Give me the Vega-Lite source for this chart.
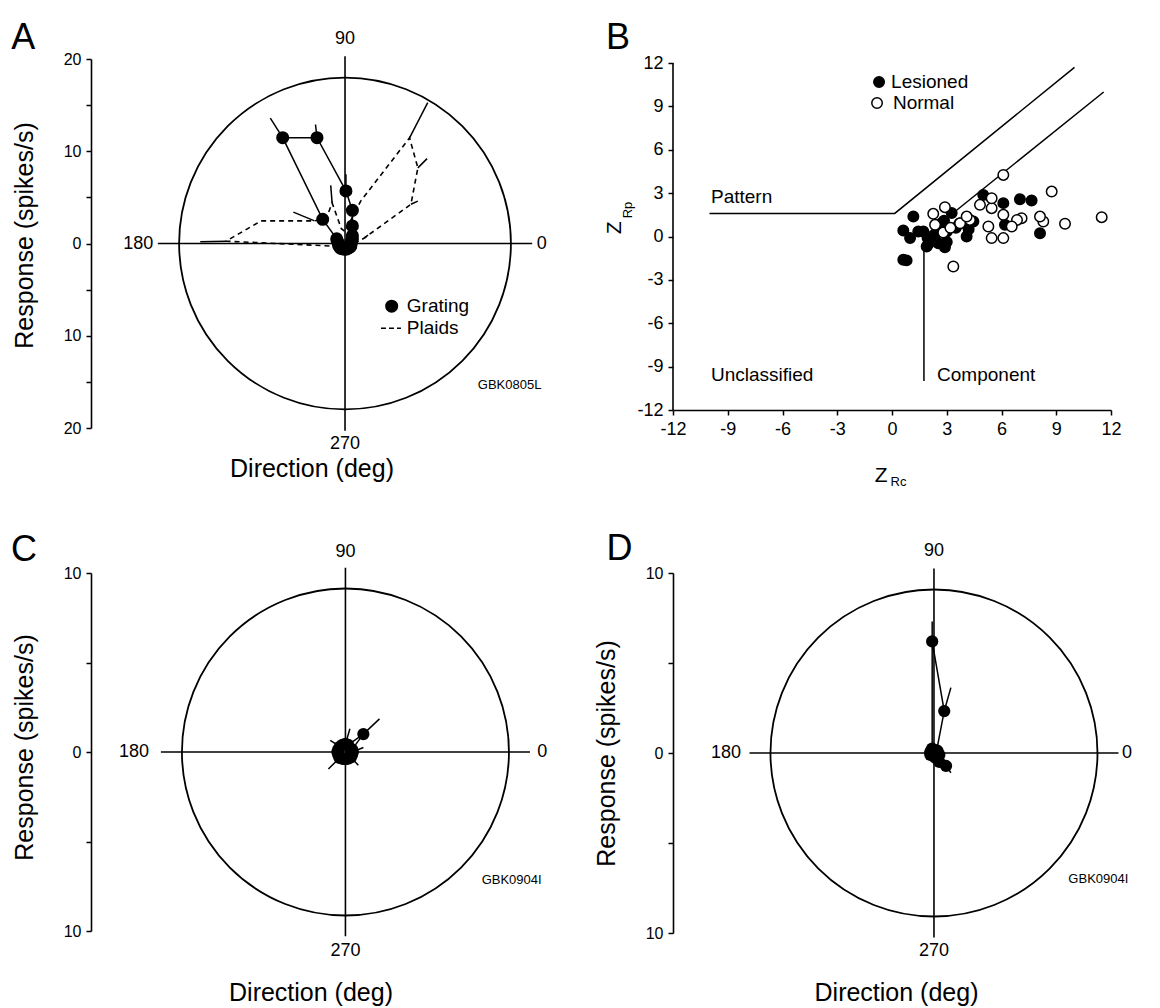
{
"$schema":"https://vega.github.io/schema/vega-lite/v6.json",
"autosize":{"type":"pad"},
"padding":{"left":10,"top":20,"right":10,"bottom":10},
"background":"white",
"config":{
 "font":"Liberation Sans",
 "view":{"stroke":null},
 "axis":{"domainColor":"black","tickColor":"black","labelColor":"black","titleColor":"black","domainWidth":1.6,"tickWidth":1.5,"tickSize":5,"labelFontSize":16,"titleFontSize":25,"titleFontWeight":"normal","grid":false,"labelFlush":false,"labelPadding":5},
 "text":{"color":"black"}
},
"datasets":{
 "origin":[{"x":0,"y":0}],
 "aCross":[{"x":-20.3,"y":0,"x2":20.3,"y2":0},{"x":0,"y":-20.3,"x2":0,"y2":20.3}],
 "cCross":[{"x":-10.3,"y":0,"x2":10.3,"y2":0},{"x":0,"y":-10.3,"x2":0,"y2":10.3}],
 "dCross":[{"x":-10.25,"y":0,"x2":10.25,"y2":0},{"x":0,"y":-10.25,"x2":0,"y2":10.25}],
 "aPlaid":[
  {"i":0,"x":1.0,"y":0.0},{"i":1,"x":2.1,"y":0.6},{"i":2,"x":7.15,"y":4.25},{"i":3,"x":7.9,"y":8.2},{"i":4,"x":7.0,"y":11.45},{"i":5,"x":1.7,"y":4.6},{"i":6,"x":0.0,"y":1.3},{"i":7,"x":-0.4,"y":1.6},{"i":8,"x":-1.4,"y":4.4},{"i":9,"x":-2.0,"y":2.8},{"i":10,"x":-3.3,"y":2.45},{"i":11,"x":-9.1,"y":2.45},{"i":12,"x":-12.9,"y":0.25},{"i":13,"x":-0.9,"y":-0.3},{"i":14,"x":-0.7,"y":-0.45},{"i":15,"x":-0.5,"y":-0.6},{"i":16,"x":-0.3,"y":-0.7},{"i":17,"x":0.0,"y":-0.75},{"i":18,"x":0.2,"y":-0.7},{"i":19,"x":0.4,"y":-0.65},{"i":20,"x":0.6,"y":-0.55},{"i":21,"x":0.75,"y":-0.4},{"i":22,"x":0.85,"y":-0.25},{"i":23,"x":0.95,"y":-0.1},{"i":24,"x":1.0,"y":0.0}],
 "aPlaidErr":[
  {"x":-12.9,"y":0.25,"x2":-15.7,"y2":0.2},{"x":-3.3,"y":2.45,"x2":-5.6,"y2":3.4},{"x":-1.4,"y":4.4,"x2":-1.55,"y2":6.3},{"x":7.0,"y":11.45,"x2":8.97,"y2":15.27},{"x":7.9,"y":8.2,"x2":8.9,"y2":9.2},{"x":7.15,"y":4.25,"x2":7.9,"y2":4.6},{"x":2.1,"y":0.6,"x2":2.5,"y2":0.9}],
 "aGrating":[
  {"i":0,"x":0.6,"y":0.0},{"i":1,"x":0.7,"y":0.2},{"i":2,"x":0.8,"y":0.5},{"i":3,"x":0.8,"y":0.85},{"i":4,"x":0.8,"y":1.9},{"i":5,"x":0.8,"y":3.6},{"i":6,"x":0.1,"y":5.7},{"i":7,"x":-3.04,"y":11.47},{"i":8,"x":-6.76,"y":11.47},{"i":9,"x":-2.42,"y":2.62},{"i":10,"x":-0.9,"y":0.5},{"i":11,"x":-0.8,"y":0.2},{"i":12,"x":-0.7,"y":0.0},{"i":13,"x":-0.7,"y":-0.2},{"i":14,"x":-0.6,"y":-0.35},{"i":15,"x":-0.5,"y":-0.5},{"i":16,"x":-0.3,"y":-0.55},{"i":17,"x":-0.15,"y":-0.6},{"i":18,"x":0.0,"y":-0.6},{"i":19,"x":0.15,"y":-0.6},{"i":20,"x":0.3,"y":-0.5},{"i":21,"x":0.45,"y":-0.45},{"i":22,"x":0.6,"y":-0.35},{"i":23,"x":0.65,"y":-0.15},{"i":24,"x":0.6,"y":0.0}],
 "aGratingErr":[
  {"x":-6.76,"y":11.47,"x2":-8.1,"y2":13.6},{"x":-3.04,"y":11.47,"x2":-3.2,"y2":12.9},{"x":0.1,"y":5.7,"x2":0.1,"y2":7.5}],
 "cGrating":[
  {"i":0,"x":0.4,"y":0.0},{"i":1,"x":0.37,"y":0.15},{"i":2,"x":1.0,"y":1.0},{"i":3,"x":0.15,"y":0.4},{"i":4,"x":0.0,"y":0.45},{"i":5,"x":-0.17,"y":0.4},{"i":6,"x":-0.3,"y":0.3},{"i":7,"x":-0.4,"y":0.15},{"i":8,"x":-0.45,"y":0.0},{"i":9,"x":-0.4,"y":-0.15},{"i":10,"x":-0.33,"y":-0.33},{"i":11,"x":-0.15,"y":-0.38},{"i":12,"x":0.0,"y":-0.4},{"i":13,"x":0.15,"y":-0.37},{"i":14,"x":0.3,"y":-0.3},{"i":15,"x":0.37,"y":-0.15},{"i":16,"x":0.4,"y":0.0}],
 "cErr":[
  {"x":1.0,"y":1.0,"x2":1.9,"y2":1.85},{"x":0.0,"y":0.45,"x2":0.25,"y2":1.3},{"x":-0.3,"y":0.3,"x2":-0.85,"y2":0.65},{"x":-0.33,"y":-0.33,"x2":-0.95,"y2":-0.95},{"x":0.3,"y":-0.3,"x2":0.72,"y2":-0.74},{"x":0.4,"y":0.0,"x2":1.0,"y2":0.25}],
 "dGrating":[
  {"i":0,"x":0.2,"y":0.0},{"i":1,"x":0.2,"y":0.1},{"i":2,"x":0.15,"y":0.15},{"i":3,"x":0.57,"y":2.33},{"i":4,"x":-0.1,"y":6.2},{"i":5,"x":-0.1,"y":0.25},{"i":6,"x":-0.15,"y":0.15},{"i":7,"x":-0.2,"y":0.05},{"i":8,"x":-0.2,"y":0.0},{"i":9,"x":-0.2,"y":-0.1},{"i":10,"x":-0.1,"y":-0.1},{"i":11,"x":0.0,"y":-0.15},{"i":12,"x":0.05,"y":-0.25},{"i":13,"x":0.3,"y":-0.5},{"i":14,"x":0.67,"y":-0.72},{"i":15,"x":0.3,"y":-0.1},{"i":16,"x":0.2,"y":0.0}],
 "dErr":[
  {"x":-0.1,"y":6.2,"x2":-0.1,"y2":7.3},{"x":0.57,"y":2.33,"x2":0.94,"y2":3.63},{"x":0.67,"y":-0.72,"x2":0.94,"y2":-1.1}],
 "bLines":[
  {"seg":"pattern","i":0,"x":-10,"y":1.6},{"seg":"pattern","i":1,"x":0.15,"y":1.6},{"seg":"pattern","i":2,"x":10,"y":11.7},
  {"seg":"component","i":0,"x":1.75,"y":-10},{"seg":"component","i":1,"x":1.75,"y":0},{"seg":"component","i":2,"x":11.6,"y":10}],
 "bAxis":[{"x":-12,"y":-12,"x2":-12,"y2":12}],
 "bLegend":[{"group":"Lesioned","x":-0.71,"y":10.69,"t":"Lesioned","tx":-0.05},{"group":"Normal","x":-0.82,"y":9.24,"t":"Normal","tx":0.05}],
 "bScatter":[
  {"group":"Lesioned","x":0.62,"y":0.41},{"group":"Lesioned","x":1.17,"y":1.38},{"group":"Lesioned","x":0.99,"y":-0.11},{"group":"Lesioned","x":1.44,"y":0.35},{"group":"Lesioned","x":1.72,"y":0.35},{"group":"Lesioned","x":1.9,"y":-0.69},{"group":"Lesioned","x":0.62,"y":-1.61},{"group":"Lesioned","x":0.8,"y":-1.65},{"group":"Lesioned","x":2.26,"y":-0.23},{"group":"Lesioned","x":2.54,"y":-0.46},{"group":"Lesioned","x":3.0,"y":-0.38},{"group":"Lesioned","x":3.27,"y":1.62},{"group":"Lesioned","x":2.72,"y":0.92},{"group":"Lesioned","x":3.0,"y":0.35},{"group":"Lesioned","x":4.09,"y":0.0},{"group":"Lesioned","x":4.46,"y":1.04},{"group":"Lesioned","x":5.0,"y":2.88},{"group":"Lesioned","x":6.1,"y":2.31},{"group":"Lesioned","x":6.19,"y":0.81},{"group":"Lesioned","x":7.01,"y":2.58},{"group":"Lesioned","x":7.65,"y":2.49},{"group":"Lesioned","x":8.11,"y":0.23},{"group":"Lesioned","x":2.0,"y":-0.5},{"group":"Lesioned","x":2.9,"y":-0.75},{"group":"Lesioned","x":3.5,"y":0.6},{"group":"Lesioned","x":2.4,"y":0.2},{"group":"Lesioned","x":3.7,"y":0.9},{"group":"Lesioned","x":4.2,"y":0.5},{"group":"Lesioned","x":2.85,"y":1.1},{"group":"Lesioned","x":1.95,"y":-0.1},
  {"group":"Normal","x":6.1,"y":4.26},{"group":"Normal","x":8.75,"y":3.11},{"group":"Normal","x":11.49,"y":1.34},{"group":"Normal","x":9.48,"y":0.88},{"group":"Normal","x":8.29,"y":1.04},{"group":"Normal","x":8.11,"y":1.38},{"group":"Normal","x":7.1,"y":1.27},{"group":"Normal","x":6.85,"y":1.15},{"group":"Normal","x":6.56,"y":0.69},{"group":"Normal","x":6.1,"y":1.5},{"group":"Normal","x":6.1,"y":-0.11},{"group":"Normal","x":5.46,"y":-0.11},{"group":"Normal","x":5.28,"y":0.69},{"group":"Normal","x":5.46,"y":1.96},{"group":"Normal","x":5.46,"y":2.65},{"group":"Normal","x":4.82,"y":2.19},{"group":"Normal","x":4.27,"y":1.15},{"group":"Normal","x":3.73,"y":0.92},{"group":"Normal","x":2.9,"y":2.03},{"group":"Normal","x":2.26,"y":1.57},{"group":"Normal","x":2.36,"y":0.81},{"group":"Normal","x":2.81,"y":0.28},{"group":"Normal","x":3.36,"y":-2.07},{"group":"Normal","x":4.09,"y":1.38},{"group":"Normal","x":3.2,"y":0.6}]
},
"columns":2,
"align":"each",
"bounds":"flush",
"spacing":{"row":145,"column":141},
"concat":[
  {"width":441,"height":369,
   "encoding":{
    "x":{"field":"x","type":"quantitative","scale":{"domain":[-27.55,20.28],"nice":false,"zero":false},"axis":{"title":"Direction (deg)","domain":false,"ticks":false,"labels":false,"titlePadding":28}},
    "y":{"field":"y","type":"quantitative","scale":{"domain":[-20,20],"nice":false,"zero":false},"axis":{"title":"Response (spikes/s)","values":[-20,-15,-10,-5,0,5,10,15,20],"labelExpr":"datum.value % 10 === 0 ? '' + abs(datum.value) : ''","titlePadding":26,"titleY":176}}
   },
   "layer":[
    {"data":{"name":"origin"},"mark":{"type":"point","shape":"circle","size":110093,"filled":false,"stroke":"black","strokeWidth":1.8,"opacity":1}},
    {"data":{"name":"aCross"},"mark":{"type":"rule","stroke":"black","strokeWidth":1.6},"encoding":{"x2":{"field":"x2"},"y2":{"field":"y2"}}},
    {"data":{"name":"aPlaid"},"mark":{"type":"line","stroke":"black","strokeWidth":1.6,"strokeDash":[5,4]},"encoding":{"order":{"field":"i","type":"quantitative"}}},
    {"data":{"name":"aPlaidErr"},"mark":{"type":"rule","stroke":"black","strokeWidth":1.5},"encoding":{"x2":{"field":"x2"},"y2":{"field":"y2"}}},
    {"data":{"name":"aGrating"},"mark":{"type":"line","stroke":"black","strokeWidth":1.5},"encoding":{"order":{"field":"i","type":"quantitative"}}},
    {"data":{"name":"aGratingErr"},"mark":{"type":"rule","stroke":"black","strokeWidth":1.5},"encoding":{"x2":{"field":"x2"},"y2":{"field":"y2"}}},
    {"data":{"name":"aGrating"},"mark":{"type":"point","shape":"circle","size":170,"filled":true,"color":"black","opacity":1}},
    {"data":{"values":[{"x":5.06,"y":-6.8}]},"mark":{"type":"point","shape":"circle","size":170,"filled":true,"color":"black","opacity":1}},
    {"data":{"values":[{"x":3.9,"y":-9.2,"x2":6.07,"y2":-9.2}]},"mark":{"type":"rule","stroke":"black","strokeWidth":1.5,"strokeDash":[5,3]},"encoding":{"x2":{"field":"x2"},"y2":{"field":"y2"}}},
    {"data":{"values":[{"x":0,"y":22.2,"t":"90"},{"x":0,"y":-21.7,"t":"270"}]},"mark":{"type":"text","fontSize":18,"align":"center","baseline":"middle"},"encoding":{"text":{"field":"t"}}},
    {"data":{"values":[{"x":-20.8,"y":0,"t":"180"}]},"mark":{"type":"text","fontSize":18,"align":"right","baseline":"middle"},"encoding":{"text":{"field":"t"}}},
    {"data":{"values":[{"x":20.8,"y":0,"t":"0"}]},"mark":{"type":"text","fontSize":18,"align":"left","baseline":"middle"},"encoding":{"text":{"field":"t"}}},
    {"data":{"values":[{"x":6.7,"y":-6.8,"t":"Grating"},{"x":6.7,"y":-9.2,"t":"Plaids"}]},"mark":{"type":"text","fontSize":19,"align":"left","baseline":"middle"},"encoding":{"text":{"field":"t"}}},
    {"data":{"values":[{"x":21.3,"y":-15.3,"t":"GBK0805L"}]},"mark":{"type":"text","fontSize":13,"align":"right","baseline":"middle"},"encoding":{"text":{"field":"t"}}},
    {"data":{"values":[{"x":-36.2,"y":21.08,"t":"A"}]},"mark":{"type":"text","fontSize":36,"align":"left","baseline":"alphabetic"},"encoding":{"text":{"field":"t"}}}
   ]},
  {"width":438,"height":351,
   "encoding":{
    "x":{"field":"x","type":"quantitative","scale":{"domain":[-12,12],"nice":false,"zero":false},"axis":{"title":null,"values":[-12,-9,-6,-3,0,3,6,9,12],"labelExpr":"'' + datum.value","labelFontSize":18}},
    "y":{"field":"y","type":"quantitative","scale":{"domain":[-12,12.28],"nice":false,"zero":false},"axis":{"title":null,"domain":false,"values":[-12,-9,-6,-3,0,3,6,9,12],"labelExpr":"'' + datum.value","labelFontSize":18}}
   },
   "layer":[
    {"data":{"name":"bAxis"},"mark":{"type":"rule","stroke":"black","strokeWidth":1.6},"encoding":{"x2":{"field":"x2"},"y2":{"field":"y2"}}},
    {"data":{"name":"bLines"},"mark":{"type":"line","stroke":"black","strokeWidth":1.5},"encoding":{"order":{"field":"i","type":"quantitative"},"detail":{"field":"seg","type":"nominal"}}},
    {"data":{"name":"bScatter"},"mark":{"type":"point","shape":"circle","size":110,"filled":true,"stroke":"black","strokeWidth":1.5,"opacity":1},
     "encoding":{"fill":{"field":"group","type":"nominal","scale":{"domain":["Lesioned","Normal"],"range":["black","white"]},"legend":null}}},
    {"data":{"name":"bLegend"},"mark":{"type":"point","shape":"circle","size":110,"filled":true,"stroke":"black","strokeWidth":1.5,"opacity":1},
     "encoding":{"fill":{"field":"group","type":"nominal","scale":{"domain":["Lesioned","Normal"],"range":["black","white"]},"legend":null}}},
    {"data":{"name":"bLegend"},"mark":{"type":"text","fontSize":19,"align":"left","baseline":"middle"},"encoding":{"x":{"field":"tx","type":"quantitative"},"text":{"field":"t"}}},
    {"data":{"values":[{"x":-9.92,"y":2.73,"t":"Pattern"},{"x":-9.92,"y":-9.58,"t":"Unclassified"},{"x":2.47,"y":-9.58,"t":"Component"}]},"mark":{"type":"text","fontSize":19,"align":"left","baseline":"middle"},"encoding":{"text":{"field":"t"}}},
    {"data":{"values":[{"x":-0.6,"y":-17.0,"t":"Z"}]},"mark":{"type":"text","fontSize":21,"align":"center","baseline":"alphabetic"},"encoding":{"text":{"field":"t"}}},
    {"data":{"values":[{"x":-0.08,"y":-17.25,"t":"Rc"}]},"mark":{"type":"text","fontSize":13,"align":"left","baseline":"alphabetic"},"encoding":{"text":{"field":"t"}}},
    {"data":{"values":[{"x":-15.18,"y":0.6,"t":"Z"}]},"mark":{"type":"text","fontSize":21,"align":"center","baseline":"middle","angle":270},"encoding":{"text":{"field":"t"}}},
    {"data":{"values":[{"x":-14.47,"y":1.26,"t":"Rp"}]},"mark":{"type":"text","fontSize":13,"align":"left","baseline":"middle","angle":270},"encoding":{"text":{"field":"t"}}},
    {"data":{"values":[{"x":-15.67,"y":12.97,"t":"B"}]},"mark":{"type":"text","fontSize":36,"align":"left","baseline":"alphabetic"},"encoding":{"text":{"field":"t"}}}
   ]},
  {"width":439,"height":358,
   "encoding":{
    "x":{"field":"x","type":"quantitative","scale":{"domain":[-14.2,10.3],"nice":false,"zero":false},"axis":{"title":"Direction (deg)","domain":false,"ticks":false,"labels":false,"titlePadding":49}},
    "y":{"field":"y","type":"quantitative","scale":{"domain":[-10,10],"nice":false,"zero":false},"axis":{"title":"Response (spikes/s)","values":[-10,-5,0,5,10],"labelExpr":"datum.value % 10 === 0 ? '' + abs(datum.value) : ''","titlePadding":26,"titleY":174}}
   },
   "layer":[
    {"data":{"name":"origin"},"mark":{"type":"point","shape":"circle","size":106940,"filled":false,"stroke":"black","strokeWidth":1.8,"opacity":1}},
    {"data":{"name":"cCross"},"mark":{"type":"rule","stroke":"black","strokeWidth":1.6},"encoding":{"x2":{"field":"x2"},"y2":{"field":"y2"}}},
    {"data":{"name":"cGrating"},"mark":{"type":"line","stroke":"black","strokeWidth":1.5},"encoding":{"order":{"field":"i","type":"quantitative"}}},
    {"data":{"name":"cErr"},"mark":{"type":"rule","stroke":"black","strokeWidth":1.5},"encoding":{"x2":{"field":"x2"},"y2":{"field":"y2"}}},
    {"data":{"name":"cGrating"},"mark":{"type":"point","shape":"circle","size":150,"filled":true,"color":"black","opacity":1}},
    {"data":{"values":[{"x":0,"y":11.2,"t":"90"},{"x":0,"y":-11.1,"t":"270"}]},"mark":{"type":"text","fontSize":18,"align":"center","baseline":"middle"},"encoding":{"text":{"field":"t"}}},
    {"data":{"values":[{"x":-10.96,"y":0,"t":"180"}]},"mark":{"type":"text","fontSize":18,"align":"right","baseline":"middle"},"encoding":{"text":{"field":"t"}}},
    {"data":{"values":[{"x":10.7,"y":0,"t":"0"}]},"mark":{"type":"text","fontSize":18,"align":"left","baseline":"middle"},"encoding":{"text":{"field":"t"}}},
    {"data":{"values":[{"x":10.95,"y":-7.15,"t":"GBK0904I"}]},"mark":{"type":"text","fontSize":13,"align":"right","baseline":"middle"},"encoding":{"text":{"field":"t"}}},
    {"data":{"values":[{"x":-18.67,"y":10.67,"t":"C"}]},"mark":{"type":"text","fontSize":36,"align":"left","baseline":"alphabetic"},"encoding":{"text":{"field":"t"}}}
   ]},
  {"width":446,"height":360,
   "encoding":{
    "x":{"field":"x","type":"quantitative","scale":{"domain":[-14.5,10.28],"nice":false,"zero":false},"axis":{"title":"Direction (deg)","domain":false,"ticks":false,"labels":false,"titlePadding":47}},
    "y":{"field":"y","type":"quantitative","scale":{"domain":[-10,10],"nice":false,"zero":false},"axis":{"title":"Response (spikes/s)","values":[-10,-5,0,5,10],"labelExpr":"datum.value % 10 === 0 ? '' + abs(datum.value) : ''","titlePadding":26}}
   },
   "layer":[
    {"data":{"name":"origin"},"mark":{"type":"point","shape":"circle","size":106940,"filled":false,"stroke":"black","strokeWidth":1.8,"opacity":1}},
    {"data":{"name":"dCross"},"mark":{"type":"rule","stroke":"black","strokeWidth":1.6},"encoding":{"x2":{"field":"x2"},"y2":{"field":"y2"}}},
    {"data":{"name":"dGrating"},"mark":{"type":"line","stroke":"black","strokeWidth":1.5},"encoding":{"order":{"field":"i","type":"quantitative"}}},
    {"data":{"name":"dErr"},"mark":{"type":"rule","stroke":"black","strokeWidth":1.5},"encoding":{"x2":{"field":"x2"},"y2":{"field":"y2"}}},
    {"data":{"name":"dGrating"},"mark":{"type":"point","shape":"circle","size":150,"filled":true,"color":"black","opacity":1}},
    {"data":{"values":[{"x":0,"y":11.2,"t":"90"},{"x":0,"y":-11.0,"t":"270"}]},"mark":{"type":"text","fontSize":18,"align":"center","baseline":"middle"},"encoding":{"text":{"field":"t"}}},
    {"data":{"values":[{"x":-10.72,"y":0,"t":"180"}]},"mark":{"type":"text","fontSize":18,"align":"right","baseline":"middle"},"encoding":{"text":{"field":"t"}}},
    {"data":{"values":[{"x":10.45,"y":0,"t":"0"}]},"mark":{"type":"text","fontSize":18,"align":"left","baseline":"middle"},"encoding":{"text":{"field":"t"}}},
    {"data":{"values":[{"x":10.8,"y":-7.0,"t":"GBK0904I"}]},"mark":{"type":"text","fontSize":13,"align":"right","baseline":"middle"},"encoding":{"text":{"field":"t"}}},
    {"data":{"values":[{"x":-18.2,"y":10.72,"t":"D"}]},"mark":{"type":"text","fontSize":36,"align":"left","baseline":"alphabetic"},"encoding":{"text":{"field":"t"}}}
   ]}
]
}
